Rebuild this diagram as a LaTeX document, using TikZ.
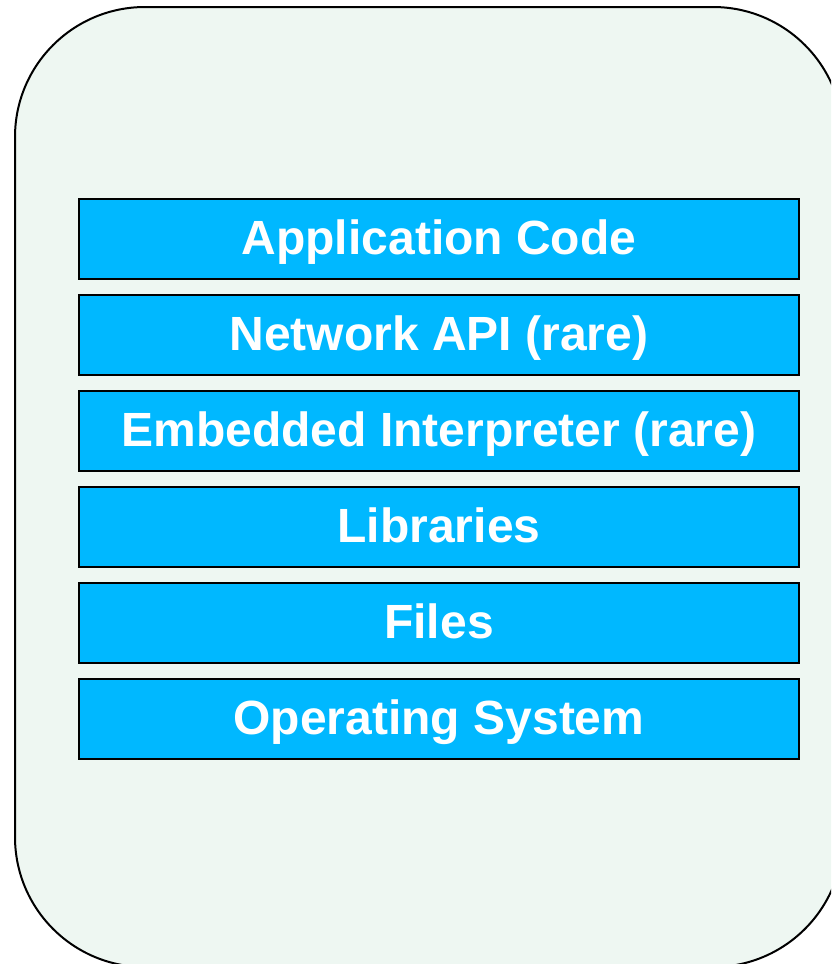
\documentclass[tikz,border=0pt]{standalone}
\usepackage{fontspec}
\setmainfont{Liberation Sans}
\definecolor{bgmint}{HTML}{EEF7F2}
\definecolor{layerblue}{HTML}{00B8FF}
\begin{document}
\begin{tikzpicture}[x=1pt,y=-1pt,
  layer/.style={draw=black, line width=2pt, fill=layerblue, text=white,
    minimum width=720pt, minimum height=80pt, inner sep=0pt,
    text height=36pt, text depth=6pt,
    font=\fontsize{48}{52}\selectfont\bfseries}]
\useasboundingbox (0,0) rectangle (831,964);
\clip (0,0) rectangle (831,964);
\draw[fill=bgmint, line width=2pt, rounded corners=130pt] (15,7) rectangle (843,967);
\node[layer] (app) at (439,239) {Application Code};
\node[layer] (net) at (439,335) {Network API (rare)};
\node[layer] (emb) at (439,431) {Embedded Interpreter (rare)};
\node[layer] (lib) at (439,527) {Libraries};
\node[layer] (fil) at (439,623) {Files};
\node[layer] (os) at (439,719) {Operating System};
\end{tikzpicture}
\end{document}
